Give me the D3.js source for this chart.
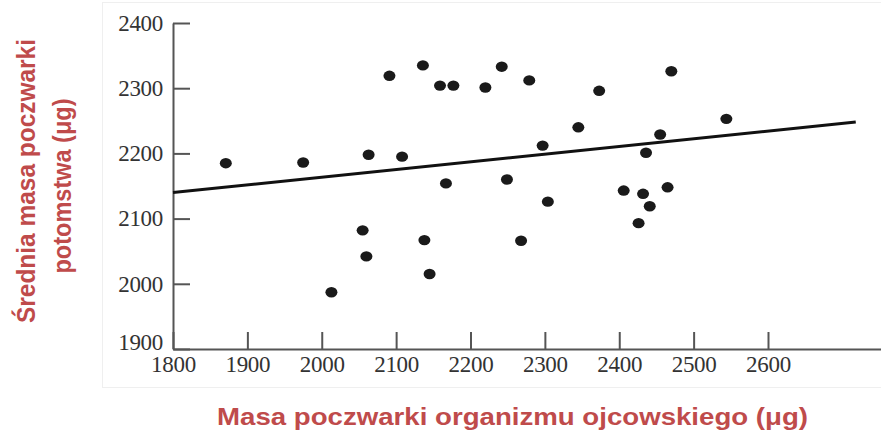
<!DOCTYPE html>
<html>
<head>
<meta charset="utf-8">
<script src="https://cdn.jsdelivr.net/npm/d3@7"></script>
<style>
  html, body { margin: 0; padding: 0; background: #fff; }
  svg { display: block; }
</style>
</head>
<body>
<svg id="chart" width="881" height="430"></svg>
<script>
// ---- data ----
const xTicks = [1800, 1900, 2000, 2100, 2200, 2300, 2400, 2500, 2600];
const yTicks = [1900, 2000, 2100, 2200, 2300, 2400];

// father pupal mass (µg)
const fatherMass = [1871, 1975, 2063, 2091, 2108, 2136, 2159, 2177, 2167, 2220,
                    2242, 2279, 2373, 2470, 2544, 2345, 2297, 2455, 2436, 2249,
                    2406, 2432, 2465, 2304, 2441, 2426, 2268, 2055, 2060, 2138,
                    2145, 2013];
// mean offspring pupal mass (µg)
const offspringMass = [2185, 2186, 2198, 2319, 2195, 2335, 2304, 2304, 2154, 2301,
                       2333, 2312, 2296, 2326, 2253, 2240, 2212, 2229, 2201, 2160,
                       2143, 2138, 2148, 2126, 2119, 2093, 2066, 2082, 2042, 2067,
                       2015, 1987];

// regression line end points
const fitX = [1800, 2718];
const fitY = [2140, 2248];

const xTitle = "Masa poczwarki organizmu ojcowskiego (\u03bcg)";
const yTitleLines = ["\u015arednia masa poczwarki", "potomstwa (\u03bcg)"];

// ---- drawing ----
const svg = d3.select("#chart");
const W = 881;

const x = d3.scaleLinear().domain([1800, 1800 + (W - 173) / 0.74375]).range([173, W]);
const y = d3.scaleLinear().domain([1900, 2400]).range([349, 23]);

// faint frame of the scanned figure
svg.append("rect")
  .attr("x", 102.5).attr("y", 2.5).attr("width", 790).attr("height", 385)
  .attr("fill", "none").attr("stroke", "#efefef").attr("stroke-width", 1);

const axisColor = "#555";
const labelFont = "'Liberation Serif', 'DejaVu Serif', serif";

const gx = svg.append("g").attr("transform", `translate(0,${y(1900)})`)
  .call(d3.axisBottom(x).tickValues(xTicks).tickSize(-17).tickSizeOuter(0)
        .tickPadding(7).tickFormat(d3.format("d")));
const gy = svg.append("g").attr("transform", `translate(${x(1800)},0)`)
  .call(d3.axisLeft(y).tickValues(yTicks).tickSize(-17).tickSizeOuter(0)
        .tickPadding(10).tickFormat(d3.format("d")));

[gx, gy].forEach(g => {
  g.select(".domain").attr("stroke", axisColor).attr("stroke-width", 2);
  g.selectAll(".tick line").attr("stroke", axisColor).attr("stroke-width", 2);
  g.selectAll(".tick text")
    .attr("fill", "#333")
    .style("font-family", labelFont)
    .style("font-size", "23px")
    .style("letter-spacing", "-0.3px");
});
// the lowest y label sits a little above the x axis in the reference
gy.selectAll(".tick").filter(d => d === 1900).select("text").attr("dy", "0.02em");

// regression line
const line = d3.line().x(d => x(d[0])).y(d => y(d[1]));
svg.append("path")
  .datum(fitX.map((v, i) => [v, fitY[i]]))
  .attr("d", line)
  .attr("fill", "none")
  .attr("stroke", "#111")
  .attr("stroke-width", 3);

// points
svg.append("g").selectAll("ellipse")
  .data(fatherMass.map((v, i) => [v, offspringMass[i]]))
  .join("ellipse")
  .attr("cx", d => x(d[0]))
  .attr("cy", d => y(d[1]))
  .attr("rx", 6)
  .attr("ry", 5.2)
  .attr("fill", "#1a1a1a");

// titles
const titleColor = "#bf4b4b";
const titleFont = "'Liberation Sans', Arial, sans-serif";

svg.append("text")
  .attr("x", 217).attr("y", 425)
  .attr("textLength", 591)
  .attr("lengthAdjust", "spacingAndGlyphs")
  .attr("fill", titleColor)
  .style("font-family", titleFont)
  .style("font-weight", "bold")
  .style("font-size", "24px")
  .text(xTitle);

const yLens = [284, 175];
const yCenters = [181, 186];
const yBase = [35, 71];
yTitleLines.forEach((t, i) => {
  svg.append("text")
    .attr("transform", `translate(${yBase[i]},${yCenters[i] + yLens[i] / 2}) rotate(-90)`)
    .attr("x", 0).attr("y", 0)
    .attr("textLength", yLens[i])
    .attr("lengthAdjust", "spacingAndGlyphs")
    .attr("fill", titleColor)
    .style("font-family", titleFont)
    .style("font-weight", "bold")
    .style("font-size", "25px")
    .text(t);
});
</script>
</body>
</html>
